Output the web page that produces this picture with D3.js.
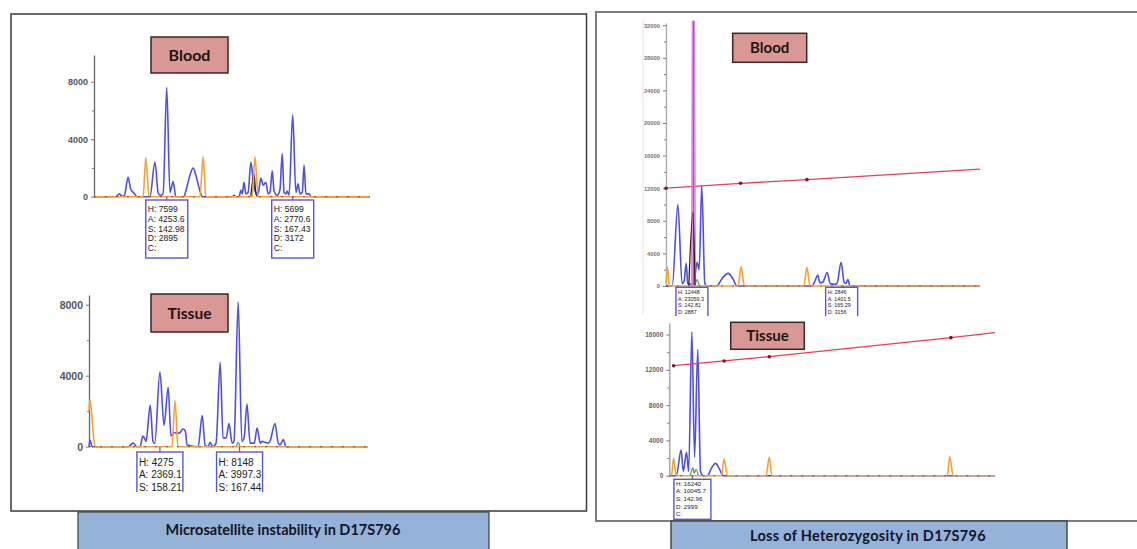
<!DOCTYPE html>
<html>
<head>
<meta charset="utf-8">
<script src="https://cdn.jsdelivr.net/npm/d3@7/dist/d3.min.js"></script>
<style>
  html, body { margin: 0; padding: 0; background: #fff; }
  svg { display: block; }
  .tick line { stroke: #777; }
</style>
</head>
<body>
<script>
// electropherogram traces, [scan, RFU]
var msiBloodBlue = [[2735,0],[2783,0],[2791,200],[2797,30],[2802,100],[2810,1350],[2816,500],[2823,250],[2830,0],[2858,0],[2869,2400],[2876,300],[2880,100],[2887,200],[2895,7600],[2902,300],[2909,1050],[2915,0],[2933,0],[2937,400],[2946,1500],[2953,2000],[2959,1500],[2968,400],[2973,0],[3039,0],[3043,100],[3047,0],[3054,0],[3058,450],[3061,200],[3065,1000],[3069,200],[3074,300],[3080,2400],[3085,1200],[3089,400],[3096,200],[3102,1300],[3107,800],[3113,1000],[3118,200],[3122,300],[3127,1800],[3131,400],[3138,100],[3144,500],[3149,3000],[3153,300],[3157,200],[3160,400],[3164,100],[3172,5700],[3179,300],[3184,900],[3188,200],[3193,300],[3197,2200],[3201,200],[3208,200],[3212,0],[3342,0]];
var msiBloodOrange = [[2735,0],[2843,0],[2849,2700],[2856,0],[2968,0],[2975,2780],[2981,0],[3083,0],[3089,2780],[3096,0],[3342,0]];
var msiBloodDark = [[3080,0],[3087,1600],[3091,200],[3095,0]];

var msiTissueBlue = [[2735,0],[2737,380],[2742,0],[2820,0],[2831,200],[2839,0],[2846,0],[2852,600],[2857,400],[2859,300],[2868,2350],[2874,300],[2878,200],[2889,4200],[2898,1200],[2907,3350],[2913,600],[2920,800],[2926,750],[2933,800],[2939,1000],[2944,900],[2948,100],[2972,0],[2981,1750],[2987,100],[2994,0],[2998,250],[3004,0],[3011,200],[3020,4750],[3026,500],[3033,500],[3039,1300],[3046,200],[3050,300],[3059,8150],[3067,300],[3072,500],[3078,2400],[3085,200],[3094,200],[3100,1050],[3107,200],[3111,300],[3117,250],[3124,200],[3128,300],[3139,1300],[3146,200],[3150,100],[3157,400],[3163,0],[3341,0]];
var msiTissueOrange = [[2735,2000],[2737,2650],[2742,1500],[2746,300],[2750,0],[2915,0],[2922,2590],[2928,0],[3341,0]];
var msiTissueGreen = [[3055,0],[3059,250],[3063,0]];

var lohBloodBlue = [[2818,0],[2830,0],[2841,10000],[2849,300],[2853,600],[2857,2800],[2860,300],[2864,200],[2872,500],[2878,2900],[2882,2000],[2887,12300],[2893,300],[2897,0],[2916,0],[2926,900],[2938,1550],[2947,900],[2955,0],[3100,0],[3106,700],[3111,1350],[3115,400],[3121,500],[3129,1650],[3135,300],[3142,200],[3148,300],[3156,2900],[3162,400],[3165,300],[3169,800],[3173,0],[3424,0]];
var lohBloodOrange = [[2818,200],[2821,2300],[2824,0],[2957,0],[2963,2370],[2969,0],[3084,0],[3090,2300],[3096,0],[3424,0]];
var lohBloodMagenta = [[2867,0],[2868.5,32500],[2873.5,32500],[2875,0]];
var lohBloodDark = [[2862,0],[2870,9000],[2874,0]];
var lohBloodGreen = [[2874,0],[2878,800],[2882,0]];
var lohBloodSizing = [[2818,12000],[2962,12600],[3090,13050],[3424,14350]];

var lohTissueBlue = [[2957,0],[2970,0],[2979,2900],[2983,500],[2989,2640],[2993,500],[2999,16300],[3004,2100],[3010,14300],[3015,500],[3020,0],[3028,0],[3035,800],[3043,1400],[3050,800],[3057,0],[3563,0]];
var lohTissueOrange = [[2957,0],[2961,0],[2965,1970],[2970,0],[3054,0],[3059,1880],[3065,0],[3137,0],[3143,2080],[3148,0],[3474,0],[3479,2150],[3485,0],[3563,0]];
var lohTissueGreen = [[2996,0],[3001,900],[3003,300],[3007,700],[3011,0]];
var lohTissueSizing = [[2965,12460],[3059,13000],[3143,13480],[3481,15640],[3563,16200]];

// y axis ticks
var msiTicks = [0, 4000, 8000],
    msiMinor = [2000, 6000],
    lohBloodTicks = [0, 4000, 8000, 12000, 16000, 20000, 24000, 28000, 32000],
    lohBloodMinor = [2000, 6000, 10000, 14000, 18000, 22000, 26000, 30000],
    lohTissueTicks = [0, 4000, 8000, 12000, 16000],
    lohTissueMinor = [2000, 6000, 10000, 14000];

// peak call boxes
var msiBloodCalls = [
  {scan: 2895, lines: ["H: 7599", "A: 4253.6", "S: 142.98", "D: 2895", "C:"]},
  {scan: 3172, lines: ["H: 5699", "A: 2770.6", "S: 167.43", "D: 3172", "C:"]}
];
var msiTissueCalls = [
  {scan: 2889, lines: ["H: 4275", "A: 2369.1", "S: 158.21"]},
  {scan: 3062, lines: ["H: 8148", "A: 3997.3", "S: 167.44"]}
];
var lohBloodCalls = [
  {scan: 2868, lines: ["H: 12448", "A: 23059.3", "S: 142.81", "D: 2887"]},
  {scan: 3157, lines: ["H: 2846", "A: 1401.5", "S: 165.29", "D: 3156"]}
];
var lohTissueCalls = [
  {scan: 3000, lines: ["H: 16240", "A: 10045.7", "S: 142.96", "D: 2999", "C:"]}
];

var captions = ["Microsatellite instability in D17S796", "Loss of Heterozygosity in D17S796"];

var width = 1137, height = 549;

var svg = d3.select("body").append("svg")
    .attr("width", width)
    .attr("height", height);

var defs = svg.append("defs");

// frames
svg.append("rect")
    .attr("x", 11).attr("y", 14).attr("width", 575.5).attr("height", 497)
    .attr("fill", "none").attr("stroke", "#3a3a3a").attr("stroke-width", 1.5);

svg.append("rect")
    .attr("x", 596).attr("y", 12).attr("width", 620).attr("height", 509)
    .attr("fill", "none").attr("stroke", "#707070").attr("stroke-width", 1.8);

svg.append("line")
    .attr("x1", 643).attr("x2", 643).attr("y1", 20).attr("y2", 314)
    .attr("stroke", "#e4e4e4").attr("stroke-width", 1);

var panels = [
  {id: "a", scans: [2735, 3342], xr: [94, 370], top: 9860, yr: [196.7, 55],
   ticks: msiTicks, minor: msiMinor, tickFont: 9, tickColor: "#555", axisColor: "#666",
   label: "Blood", labelBox: [151, 37, 77, 36], labelFont: 16,
   blue: msiBloodBlue, orange: msiBloodOrange, dark: msiBloodDark,
   calls: msiBloodCalls, box: {w: 42, gap: 3.3, h: 58, font: 8.6, first: 12, step: 9.8}},
  {id: "b", scans: [2735, 3341], xr: [89, 368], top: 8546, yr: [446.7, 295],
   ticks: msiTicks, minor: msiMinor, tickFont: 10.5, tickColor: "#555", axisColor: "#666",
   label: "Tissue", labelBox: [151, 294, 77, 38], labelFont: 15.5,
   blue: msiTissueBlue, orange: msiTissueOrange, green: msiTissueGreen,
   calls: msiTissueCalls, box: {w: 46, gap: 5.3, h: 60, font: 10, first: 13.5, step: 12.5, clip: 492}},
  {id: "c", scans: [2818, 3424], xr: [666, 980], top: 32270, yr: [286, 23],
   ticks: lohBloodTicks, minor: lohBloodMinor, tickFont: 5.8, tickColor: "#777", axisColor: "#aaa",
   label: "Blood", labelBox: [732.7, 33.3, 74, 29], labelFont: 15,
   blue: lohBloodBlue, orange: lohBloodOrange, dark: lohBloodDark, green: lohBloodGreen,
   magenta: lohBloodMagenta, sizing: lohBloodSizing,
   calls: lohBloodCalls, box: {w: 32, gap: 1.3, h: 40, font: 5.4, first: 6.8, step: 6.6, clip: 316}},
  {id: "d", scans: [2957, 3563], xr: [669.3, 995], top: 17300, yr: [475.7, 323],
   ticks: lohTissueTicks, minor: lohTissueMinor, tickFont: 6.5, tickColor: "#666", axisColor: "#999",
   label: "Tissue", labelBox: [730.7, 322.3, 73.6, 27], labelFont: 15,
   blue: lohTissueBlue, orange: lohTissueOrange, green: lohTissueGreen, sizing: lohTissueSizing,
   calls: lohTissueCalls, box: {w: 37, gap: 3.6, h: 40, font: 6.2, first: 6.6, step: 7.6}}
];

panels.forEach(drawPanel);

function drawPanel(p) {
  var x = d3.scaleLinear().domain(p.scans).range(p.xr),
      y = d3.scaleLinear().domain([0, p.top]).range(p.yr);

  var g = svg.append("g").attr("class", "panel-" + p.id);

  var line = d3.line()
      .x(function(d) { return x(d[0]); })
      .y(function(d) { return y(d[1]); })
      .curve(d3.curveMonotoneX);

  var straight = d3.line()
      .x(function(d) { return x(d[0]); })
      .y(function(d) { return y(d[1]); });

  // axis
  var yAxis = d3.axisLeft(y)
      .tickValues(p.ticks)
      .tickFormat(d3.format("d"))
      .tickSize(3)
      .tickPadding(3)
      .tickSizeOuter(0);

  var ax = g.append("g")
      .attr("transform", "translate(" + p.xr[0] + ",0)")
      .call(yAxis);
  ax.select(".domain").attr("stroke", p.axisColor).attr("stroke-width", 1.3);
  ax.selectAll(".tick line").attr("stroke", p.axisColor);
  ax.selectAll(".tick text")
      .attr("fill", p.tickColor)
      .style("font", "bold " + p.tickFont + "px 'Liberation Sans', Arial, sans-serif");

  var minor = g.append("g")
      .attr("transform", "translate(" + p.xr[0] + ",0)")
      .call(d3.axisLeft(y).tickValues(p.minor).tickFormat("").tickSize(2).tickSizeOuter(0));
  minor.select(".domain").remove();
  minor.selectAll(".tick line").attr("stroke", p.axisColor);

  // traces
  g.append("path").datum(p.blue)
      .attr("d", line).attr("fill", "none")
      .attr("stroke", "#5050da").attr("stroke-width", 1.6);

  if (p.green) {
    g.append("path").datum(p.green)
        .attr("d", line).attr("fill", "none")
        .attr("stroke", "#3a9a4a").attr("stroke-width", 1.2);
  }

  if (p.sizing) {
    g.append("path").datum(p.sizing)
        .attr("d", straight)
        .attr("fill", "none").attr("stroke", "#e0405e").attr("stroke-width", 1.3);
    g.selectAll("circle.size")
        .data(p.sizing.slice(0, -1))
        .enter().append("circle")
        .attr("class", "size")
        .attr("cx", function(d) { return x(d[0]); })
        .attr("cy", function(d) { return y(d[1]); })
        .attr("r", 1.8)
        .attr("fill", "#8a1020");
  }

  if (p.magenta) {
    g.append("path").datum(p.magenta)
        .attr("d", straight)
        .attr("fill", "#e58ae8").attr("fill-opacity", 0.9)
        .attr("stroke", "#d874dc").attr("stroke-width", 0.8);
    var mid = p.magenta[1];
    g.append("line")
        .attr("x1", x((p.magenta[1][0] + p.magenta[2][0]) / 2))
        .attr("x2", x((p.magenta[1][0] + p.magenta[2][0]) / 2))
        .attr("y1", y(0)).attr("y2", y(mid[1]))
        .attr("stroke", "#b648c2").attr("stroke-width", 1);
  }

  if (p.dark) {
    g.append("path").datum(p.dark)
        .attr("d", line).attr("fill", "none")
        .attr("stroke", "#3a1c1c").attr("stroke-width", 1.3);
  }

  g.append("path").datum(p.orange)
      .attr("d", line).attr("fill", "none")
      .attr("stroke", "#f2a23a").attr("stroke-width", 1.6);

  g.append("line")
      .attr("x1", p.xr[0]).attr("x2", p.xr[1])
      .attr("y1", y(0)).attr("y2", y(0))
      .attr("stroke", "#7a2a20").attr("stroke-width", 1.2)
      .attr("stroke-dasharray", "2,9").attr("opacity", 0.6);

  // peak call boxes
  var b = p.box;
  var callLayer = g.append("g");
  if (b.clip) {
    defs.append("clipPath").attr("id", "clip-" + p.id)
      .append("rect")
        .attr("x", p.xr[0] - 20).attr("y", y(0))
        .attr("width", p.xr[1] - p.xr[0] + 40).attr("height", b.clip - y(0));
    callLayer.attr("clip-path", "url(#clip-" + p.id + ")");
  }

  var call = callLayer.selectAll("g.call")
      .data(p.calls)
      .enter().append("g")
      .attr("class", "call")
      .attr("transform", function(d) { return "translate(" + (x(d.scan) - b.w / 2) + "," + (y(0) + b.gap) + ")"; });

  call.append("line")
      .attr("x1", b.w / 2).attr("x2", b.w / 2)
      .attr("y1", -b.gap).attr("y2", 0)
      .attr("stroke", "#5858d0").attr("stroke-width", 1.2);

  call.append("rect")
      .attr("width", b.w).attr("height", b.h)
      .attr("fill", "#fff").attr("stroke", "#5858d0").attr("stroke-width", 1.4);

  call.selectAll("text")
      .data(function(d) { return d.lines; })
      .enter().append("text")
      .attr("x", 2)
      .attr("y", function(d, i) { return b.first + i * b.step; })
      .attr("fill", "#222")
      .style("font", b.font + "px 'Liberation Sans Narrow', 'Liberation Sans', Arial, sans-serif")
      .text(function(d) { return d; });

  // sample label
  var lb = p.labelBox;
  g.append("rect")
      .attr("x", lb[0]).attr("y", lb[1]).attr("width", lb[2]).attr("height", lb[3])
      .attr("fill", "#d99894").attr("stroke", "#3b2626").attr("stroke-width", 1.5);
  g.append("text")
      .attr("x", lb[0] + lb[2] / 2).attr("y", lb[1] + lb[3] / 2 + p.labelFont * 0.36)
      .attr("text-anchor", "middle")
      .attr("fill", "#1e1414")
      .style("font", "bold " + p.labelFont + "px Lato, 'Open Sans', sans-serif")
      .text(p.label);
}

// captions
svg.append("rect")
    .attr("x", 78).attr("y", 512).attr("width", 411).attr("height", 45)
    .attr("fill", "#95b3d8").attr("stroke", "#3f3f3f").attr("stroke-width", 1.2);
svg.append("text")
    .attr("x", 283).attr("y", 535)
    .attr("text-anchor", "middle").attr("fill", "#141428")
    .style("font", "bold 14.5px Lato, 'Open Sans', sans-serif")
    .text(captions[0]);

svg.append("rect")
    .attr("x", 671).attr("y", 521).attr("width", 396).attr("height", 40)
    .attr("fill", "#95b3d8").attr("stroke", "#3f3f3f").attr("stroke-width", 1.4);
svg.append("text")
    .attr("x", 868).attr("y", 541)
    .attr("text-anchor", "middle").attr("fill", "#141428")
    .style("font", "bold 14.5px Lato, 'Open Sans', sans-serif")
    .style("letter-spacing", "0.3px")
    .text(captions[1]);
</script>
</body>
</html>
